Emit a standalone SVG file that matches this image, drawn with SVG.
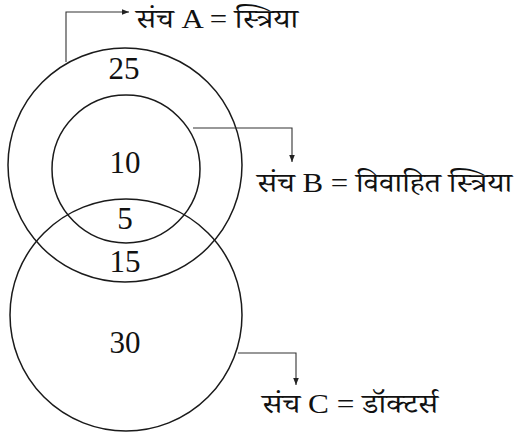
<svg xmlns="http://www.w3.org/2000/svg" width="516" height="434" viewBox="0 0 516 434">
<style>
.c{fill:none;stroke:#1a1a1a;stroke-width:1.5}
.l{fill:none;stroke:#333;stroke-width:1.1}
.n{font-family:"Liberation Serif","Times New Roman",serif;font-size:31px;fill:#111;text-anchor:middle}
.t{font-family:"Liberation Serif","Noto Serif Devanagari","Noto Sans Devanagari","Lohit Devanagari",serif;font-size:27px;fill:#111}
</style>
<defs>
<marker id="ah" viewBox="0 0 10 10" refX="10" refY="5" markerWidth="7" markerHeight="7" markerUnits="userSpaceOnUse" orient="auto">
<path d="M0,1 L10,5 L0,9 z" fill="#222"/>
</marker>
</defs>
<rect width="516" height="434" fill="#fff"/>
<g id="setA">
<circle class="c" cx="125" cy="165" r="117"/>
<text class="n" x="124" y="79">25</text>
</g>
<g id="setB">
<circle class="c" cx="126" cy="169" r="74"/>
<text class="n" x="125" y="173">10</text>
</g>
<g id="setC">
<circle class="c" cx="126" cy="315" r="116"/>
<text class="n" x="125" y="353">30</text>
</g>
<g id="regions">
<text class="n" x="125" y="229">5</text>
<text class="n" x="125" y="272">15</text>
</g>
<g id="connectors">
<path class="l" d="M66,62 V12 H129" marker-end="url(#ah)"/>
<path class="l" d="M193,128 H292 V162" marker-end="url(#ah)"/>
<path class="l" d="M238,353 H296 V385" marker-end="url(#ah)"/>
</g>
<g id="labels">
<text class="t" x="136" y="28" textLength="162" lengthAdjust="spacingAndGlyphs">संच A = स्त्रिया</text>
<text class="t" x="257" y="192" textLength="255" lengthAdjust="spacingAndGlyphs">संच B = विवाहित स्त्रिया</text>
<text class="t" x="262" y="413" textLength="176" lengthAdjust="spacingAndGlyphs">संच C = डॉक्टर्स</text>
</g>
</svg>
